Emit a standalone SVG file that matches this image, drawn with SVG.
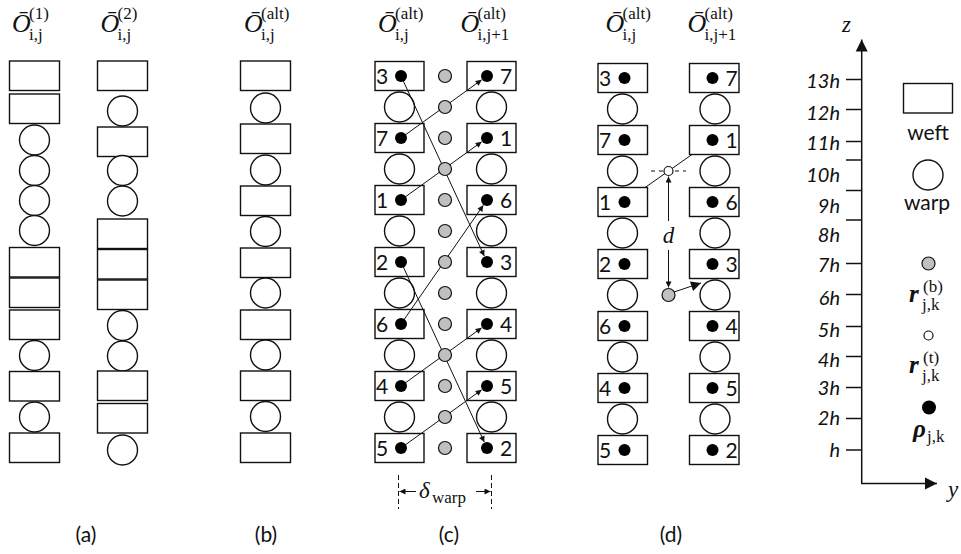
<svg xmlns="http://www.w3.org/2000/svg" width="961" height="554" viewBox="0 0 961 554">
<style>
.w{fill:#fff;stroke:#111;stroke-width:1.4}
.g{fill:#c0c0c0;stroke:#111;stroke-width:1.2}
.b{fill:#000}
.n{font-family:Lato,"Liberation Sans",sans-serif;font-size:21px;fill:#111;text-anchor:middle}
.ax{font-family:Lato,"Liberation Sans",sans-serif;font-style:italic;font-size:20px;fill:#111;text-anchor:end}
.lb{font-family:Lato,"Liberation Sans",sans-serif;font-size:21px;fill:#111;text-anchor:middle}
.O{font-family:"Liberation Serif",serif;font-style:italic;font-size:26px;fill:#111}
.s{font-family:"Liberation Serif",serif;font-size:17px;fill:#111}
.mi{font-family:"Liberation Serif",serif;font-style:italic;fill:#111}
.bi{font-family:"Liberation Serif",serif;font-style:italic;font-weight:bold;font-size:25px;fill:#111}
.ln{stroke:#111;stroke-width:1;fill:none}
</style>
<defs>
<marker id="ah" viewBox="0 0 10 10" refX="10" refY="5" markerUnits="userSpaceOnUse" markerWidth="8" markerHeight="6" orient="auto-start-reverse"><path d="M0,0L10,5L0,10z" fill="#111"/></marker>
<marker id="ahb" viewBox="0 0 10 10" refX="10" refY="5" markerUnits="userSpaceOnUse" markerWidth="12" markerHeight="10" orient="auto"><path d="M0,0L10,5L0,10z" fill="#111"/></marker>
<marker id="axh" viewBox="0 0 10 10" refX="10" refY="5" markerUnits="userSpaceOnUse" markerWidth="12" markerHeight="13" orient="auto"><path d="M0,0L10,5L0,10z" fill="#111"/></marker>
</defs>

<!-- headers -->
<g id="headers">
<text class="O" x="12" y="32">Ō</text><text class="s" x="29" y="19">(1)</text><text class="s" x="29" y="40">i,j</text>
<text class="O" x="100.5" y="32">Ō</text><text class="s" x="117.5" y="19">(2)</text><text class="s" x="117.5" y="40">i,j</text>
<text class="O" x="244" y="32">Ō</text><text class="s" x="261" y="19">(alt)</text><text class="s" x="261" y="40">i,j</text>
<text class="O" x="378" y="32">Ō</text><text class="s" x="395" y="19">(alt)</text><text class="s" x="395" y="40">i,j</text>
<text class="O" x="460.5" y="32">Ō</text><text class="s" x="477.5" y="19">(alt)</text><text class="s" x="477.5" y="40">i,j+1</text>
<text class="O" x="605.5" y="32">Ō</text><text class="s" x="622.5" y="19">(alt)</text><text class="s" x="622.5" y="40">i,j</text>
<text class="O" x="687.5" y="32">Ō</text><text class="s" x="704.5" y="19">(alt)</text><text class="s" x="704.5" y="40">i,j+1</text>
</g>

<!-- (a) -->
<g id="a-left">
<rect class="w" x="9.5" y="61" width="50" height="29.5"/>
<rect class="w" x="9.5" y="94" width="50" height="29.5"/>
<circle class="w" cx="34.5" cy="140" r="15"/>
<circle class="w" cx="34.5" cy="170.5" r="15"/>
<circle class="w" cx="34.5" cy="200.5" r="15"/>
<circle class="w" cx="34.5" cy="230.5" r="15"/>
<rect class="w" x="9.5" y="247.5" width="50" height="29.5"/>
<rect class="w" x="9.5" y="278" width="50" height="29.5"/>
<rect class="w" x="9.5" y="310" width="50" height="29.5"/>
<circle class="w" cx="34.5" cy="355.5" r="15"/>
<rect class="w" x="9.5" y="371.5" width="50" height="29.5"/>
<circle class="w" cx="34.5" cy="417" r="15"/>
<rect class="w" x="9.5" y="433" width="50" height="29.5"/>
</g>
<g id="a-right">
<rect class="w" x="97.5" y="61" width="50" height="29.5"/>
<circle class="w" cx="122.5" cy="111" r="15"/>
<rect class="w" x="97.5" y="127" width="50" height="29.5"/>
<circle class="w" cx="122.5" cy="170.5" r="15"/>
<circle class="w" cx="122.5" cy="201" r="15"/>
<rect class="w" x="97.5" y="219" width="50" height="29.5"/>
<rect class="w" x="97.5" y="249.5" width="50" height="29.5"/>
<rect class="w" x="97.5" y="280" width="50" height="29.5"/>
<circle class="w" cx="122.5" cy="325.5" r="15"/>
<circle class="w" cx="122.5" cy="356" r="15"/>
<rect class="w" x="97.5" y="371" width="50" height="29.5"/>
<rect class="w" x="97.5" y="403.5" width="50" height="29.5"/>
<circle class="w" cx="122.5" cy="450" r="15"/>
</g>

<!-- (b) -->
<g id="b-col">
<rect class="w" x="240.5" y="61" width="50" height="29.5"/>
<circle class="w" cx="265.5" cy="108" r="15"/>
<rect class="w" x="240.5" y="124" width="50" height="29.5"/>
<circle class="w" cx="265.5" cy="170" r="15"/>
<rect class="w" x="240.5" y="186" width="50" height="29.5"/>
<circle class="w" cx="265.5" cy="231.5" r="15"/>
<rect class="w" x="240.5" y="248" width="50" height="29.5"/>
<circle class="w" cx="265.5" cy="293" r="15"/>
<rect class="w" x="240.5" y="310" width="50" height="29.5"/>
<circle class="w" cx="265.5" cy="355" r="15"/>
<rect class="w" x="240.5" y="371" width="50" height="29.5"/>
<circle class="w" cx="265.5" cy="416.5" r="15"/>
<rect class="w" x="240.5" y="433" width="50" height="29.5"/>
</g>

<!-- (c) -->
<g id="c-left">
<rect class="w" x="375" y="61.5" width="49" height="29"/>
<circle class="w" cx="399.5" cy="107" r="15"/>
<rect class="w" x="375" y="123.5" width="49" height="29"/>
<circle class="w" cx="399.5" cy="169" r="15"/>
<rect class="w" x="375" y="185.5" width="49" height="29"/>
<circle class="w" cx="399.5" cy="231" r="15"/>
<rect class="w" x="375" y="247.5" width="49" height="29"/>
<circle class="w" cx="399.5" cy="293" r="15"/>
<rect class="w" x="375" y="309.5" width="49" height="29"/>
<circle class="w" cx="399.5" cy="355" r="15"/>
<rect class="w" x="375" y="371.5" width="49" height="29"/>
<circle class="w" cx="399.5" cy="417" r="15"/>
<rect class="w" x="375" y="433.5" width="49" height="29"/>
<text class="n" x="382" y="84">3</text>
<text class="n" x="382" y="146">7</text>
<text class="n" x="382" y="208">1</text>
<text class="n" x="382" y="270">2</text>
<text class="n" x="382" y="332">6</text>
<text class="n" x="382" y="394">4</text>
<text class="n" x="382" y="456">5</text>
</g>
<g id="c-right">
<rect class="w" x="467" y="61.5" width="49" height="29"/>
<circle class="w" cx="491.5" cy="107" r="15"/>
<rect class="w" x="467" y="123.5" width="49" height="29"/>
<circle class="w" cx="491.5" cy="169" r="15"/>
<rect class="w" x="467" y="185.5" width="49" height="29"/>
<circle class="w" cx="491.5" cy="231" r="15"/>
<rect class="w" x="467" y="247.5" width="49" height="29"/>
<circle class="w" cx="491.5" cy="293" r="15"/>
<rect class="w" x="467" y="309.5" width="49" height="29"/>
<circle class="w" cx="491.5" cy="355" r="15"/>
<rect class="w" x="467" y="371.5" width="49" height="29"/>
<circle class="w" cx="491.5" cy="417" r="15"/>
<rect class="w" x="467" y="433.5" width="49" height="29"/>
<text class="n" x="506" y="84">7</text>
<text class="n" x="506" y="146">1</text>
<text class="n" x="506" y="208">6</text>
<text class="n" x="506" y="270">3</text>
<text class="n" x="506" y="332">4</text>
<text class="n" x="506" y="394">5</text>
<text class="n" x="506" y="456">2</text>
</g>
<g id="connectors">
<line class="ln" x1="401" y1="138" x2="481.7" y2="79.8" marker-end="url(#ah)"/>
<line class="ln" x1="401" y1="200" x2="481.7" y2="141.8" marker-end="url(#ah)"/>
<line class="ln" x1="401" y1="324" x2="483.3" y2="205.3" marker-end="url(#ah)"/>
<line class="ln" x1="401" y1="76" x2="484.3" y2="256.1" marker-end="url(#ah)"/>
<line class="ln" x1="401" y1="262" x2="484.3" y2="442.1" marker-end="url(#ah)"/>
<line class="ln" x1="401" y1="386" x2="481.7" y2="327.8" marker-end="url(#ah)"/>
<line class="ln" x1="401" y1="448" x2="481.7" y2="389.8" marker-end="url(#ah)"/>
<line class="ln" x1="624.5" y1="202" x2="707.2" y2="143.8" marker-end="url(#ah)"/>
<line class="ln" x1="651" y1="171" x2="686" y2="171" stroke-dasharray="4,4"/>
<line class="ln" x1="668.5" y1="176.5" x2="668.5" y2="221" marker-start="url(#ah)"/>
<line class="ln" x1="668.5" y1="250" x2="668.5" y2="287.5" marker-end="url(#ah)"/>
<line class="ln" x1="674" y1="292" x2="701" y2="283" stroke-width="3.2" marker-end="url(#ahb)"/>
</g>
<g id="c-mid">
<circle class="g" cx="445" cy="76" r="6.5"/>
<circle class="g" cx="445" cy="107" r="6.5"/>
<circle class="g" cx="445" cy="138" r="6.5"/>
<circle class="g" cx="445" cy="169" r="6.5"/>
<circle class="g" cx="445" cy="200" r="6.5"/>
<circle class="g" cx="445" cy="231" r="6.5"/>
<circle class="g" cx="445" cy="262" r="6.5"/>
<circle class="g" cx="445" cy="293" r="6.5"/>
<circle class="g" cx="445" cy="324" r="6.5"/>
<circle class="g" cx="445" cy="355" r="6.5"/>
<circle class="g" cx="445" cy="386" r="6.5"/>
<circle class="g" cx="445" cy="417" r="6.5"/>
<circle class="g" cx="445" cy="448" r="6.5"/>
</g>
<g id="c-dots">
<circle class="b" cx="401" cy="76" r="6"/><circle class="b" cx="401" cy="138" r="6"/><circle class="b" cx="401" cy="200" r="6"/><circle class="b" cx="401" cy="262" r="6"/><circle class="b" cx="401" cy="324" r="6"/><circle class="b" cx="401" cy="386" r="6"/><circle class="b" cx="401" cy="448" r="6"/>
<circle class="b" cx="487" cy="76" r="6"/><circle class="b" cx="487" cy="138" r="6"/><circle class="b" cx="487" cy="200" r="6"/><circle class="b" cx="487" cy="262" r="6"/><circle class="b" cx="487" cy="324" r="6"/><circle class="b" cx="487" cy="386" r="6"/><circle class="b" cx="487" cy="448" r="6"/>
</g>
<g id="delta-warp">
<line class="ln" x1="398.5" y1="475" x2="398.5" y2="509" stroke-dasharray="5,3"/>
<line class="ln" x1="491.5" y1="475" x2="491.5" y2="509" stroke-dasharray="5,3"/>
<line class="ln" x1="416" y1="491.5" x2="399.5" y2="491.5" marker-end="url(#ah)"/>
<line class="ln" x1="476" y1="491.5" x2="490.5" y2="491.5" marker-end="url(#ah)"/>
<text class="mi" x="419" y="498" font-size="23">δ</text>
<text class="s" x="432" y="503" font-size="18">warp</text>
</g>

<!-- (d) -->
<g id="d-left">
<rect class="w" x="598" y="63.5" width="49.5" height="29"/>
<circle class="w" cx="622.5" cy="109" r="15"/>
<rect class="w" x="598" y="125.5" width="49.5" height="29"/>
<circle class="w" cx="622.5" cy="171" r="15"/>
<rect class="w" x="598" y="187.5" width="49.5" height="29"/>
<circle class="w" cx="622.5" cy="233" r="15"/>
<rect class="w" x="598" y="249.5" width="49.5" height="29"/>
<circle class="w" cx="622.5" cy="295" r="15"/>
<rect class="w" x="598" y="311.5" width="49.5" height="29"/>
<circle class="w" cx="622.5" cy="357" r="15"/>
<rect class="w" x="598" y="373.5" width="49.5" height="29"/>
<circle class="w" cx="622.5" cy="419" r="15"/>
<rect class="w" x="598" y="435.5" width="49.5" height="29"/>
<text class="n" x="605" y="86">3</text>
<text class="n" x="605" y="148">7</text>
<text class="n" x="605" y="210">1</text>
<text class="n" x="605" y="272">2</text>
<text class="n" x="605" y="334">6</text>
<text class="n" x="605" y="396">4</text>
<text class="n" x="605" y="458">5</text>
<circle class="b" cx="624.5" cy="78" r="6"/><circle class="b" cx="624.5" cy="140" r="6"/><circle class="b" cx="624.5" cy="202" r="6"/><circle class="b" cx="624.5" cy="264" r="6"/><circle class="b" cx="624.5" cy="326" r="6"/><circle class="b" cx="624.5" cy="388" r="6"/><circle class="b" cx="624.5" cy="450" r="6"/>
</g>
<g id="d-right">
<rect class="w" x="689.5" y="63.5" width="49.5" height="29"/>
<circle class="w" cx="715" cy="109" r="15"/>
<rect class="w" x="689.5" y="125.5" width="49.5" height="29"/>
<circle class="w" cx="715" cy="171" r="15"/>
<rect class="w" x="689.5" y="187.5" width="49.5" height="29"/>
<circle class="w" cx="715" cy="233" r="15"/>
<rect class="w" x="689.5" y="249.5" width="49.5" height="29"/>
<circle class="w" cx="715" cy="295" r="15"/>
<rect class="w" x="689.5" y="311.5" width="49.5" height="29"/>
<circle class="w" cx="715" cy="357" r="15"/>
<rect class="w" x="689.5" y="373.5" width="49.5" height="29"/>
<circle class="w" cx="715" cy="419" r="15"/>
<rect class="w" x="689.5" y="435.5" width="49.5" height="29"/>
<text class="n" x="731.5" y="86">7</text>
<text class="n" x="731.5" y="148">1</text>
<text class="n" x="731.5" y="210">6</text>
<text class="n" x="731.5" y="272">3</text>
<text class="n" x="731.5" y="334">4</text>
<text class="n" x="731.5" y="396">5</text>
<text class="n" x="731.5" y="458">2</text>
<circle class="b" cx="712.5" cy="78" r="6"/><circle class="b" cx="712.5" cy="140" r="6"/><circle class="b" cx="712.5" cy="202" r="6"/><circle class="b" cx="712.5" cy="264" r="6"/><circle class="b" cx="712.5" cy="326" r="6"/><circle class="b" cx="712.5" cy="388" r="6"/><circle class="b" cx="712.5" cy="450" r="6"/>
</g>
<g id="d-markers">
<circle cx="668.5" cy="171" r="4.5" fill="#fff" stroke="#111" stroke-width="1.2"/>
<circle class="g" cx="668.5" cy="295" r="6.5"/>
<text class="mi" x="668.5" y="243" font-size="23" text-anchor="middle">d</text>
</g>

<!-- axis -->
<g id="axis">
<line x1="861.7" y1="483.5" x2="861.7" y2="39.5" stroke="#111" stroke-width="1.5" marker-end="url(#axh)"/>
<line x1="861" y1="483.5" x2="937" y2="483.5" stroke="#111" stroke-width="1.5" marker-end="url(#axh)"/>
<g stroke="#111" stroke-width="1.5">
<line x1="846" y1="79.5" x2="861.7" y2="79.5"/>
<line x1="846" y1="109.5" x2="861.7" y2="109.5"/>
<line x1="846" y1="141.5" x2="861.7" y2="141.5"/>
<line x1="846" y1="160" x2="861.7" y2="160"/>
<line x1="846" y1="190.5" x2="861.7" y2="190.5"/>
<line x1="846" y1="220" x2="861.7" y2="220"/>
<line x1="846" y1="263.5" x2="861.7" y2="263.5"/>
<line x1="846" y1="294.5" x2="861.7" y2="294.5"/>
<line x1="846" y1="326.5" x2="861.7" y2="326.5"/>
<line x1="846" y1="356.5" x2="861.7" y2="356.5"/>
<line x1="846" y1="387.5" x2="861.7" y2="387.5"/>
<line x1="846" y1="418.5" x2="861.7" y2="418.5"/>
<line x1="846" y1="450" x2="861.7" y2="450"/>
</g>
<text class="ax" x="840" y="88">13h</text>
<text class="ax" x="840" y="120">12h</text>
<text class="ax" x="840" y="150">11h</text>
<text class="ax" x="840" y="181.5">10h</text>
<text class="ax" x="840" y="213">9h</text>
<text class="ax" x="840" y="241.5">8h</text>
<text class="ax" x="840" y="271.5">7h</text>
<text class="ax" x="840" y="305">6h</text>
<text class="ax" x="840" y="336.5">5h</text>
<text class="ax" x="840" y="366.5">4h</text>
<text class="ax" x="840" y="395">3h</text>
<text class="ax" x="840" y="425">2h</text>
<text class="ax" x="840" y="456.5">h</text>
<text class="mi" x="846.5" y="31.5" font-size="23" text-anchor="middle">z</text>
<text class="mi" x="953" y="497" font-size="23" text-anchor="middle">y</text>
</g>

<!-- legend -->
<g id="legend-weft">
<rect class="w" x="903.5" y="83.5" width="49" height="29.5"/>
<text class="lb" x="928" y="140">weft</text>
</g>
<g id="legend-warp">
<circle class="w" cx="928" cy="175" r="15"/>
<text class="lb" x="927" y="210">warp</text>
</g>
<g id="legend-rb">
<circle class="g" cx="928.5" cy="263.5" r="6.5"/>
<text class="bi" x="909" y="301.5">r</text><text class="s" x="923" y="292">(b)</text><text class="s" x="922" y="310">j,k</text>
</g>
<g id="legend-rt">
<circle cx="928.5" cy="335.5" r="4.5" fill="#fff" stroke="#111" stroke-width="1.2"/>
<text class="bi" x="909" y="373">r</text><text class="s" x="923" y="363">(t)</text><text class="s" x="922" y="381">j,k</text>
</g>
<g id="legend-rho">
<circle class="b" cx="929" cy="407.5" r="7"/>
<text class="bi" x="913" y="437">ρ</text><text class="s" x="927" y="442">j,k</text>
</g>

<!-- panel labels -->
<g id="labels">
<text class="lb" x="86" y="542">(a)</text>
<text class="lb" x="266" y="542">(b)</text>
<text class="lb" x="449" y="542">(c)</text>
<text class="lb" x="671" y="542">(d)</text>
</g>
</svg>
